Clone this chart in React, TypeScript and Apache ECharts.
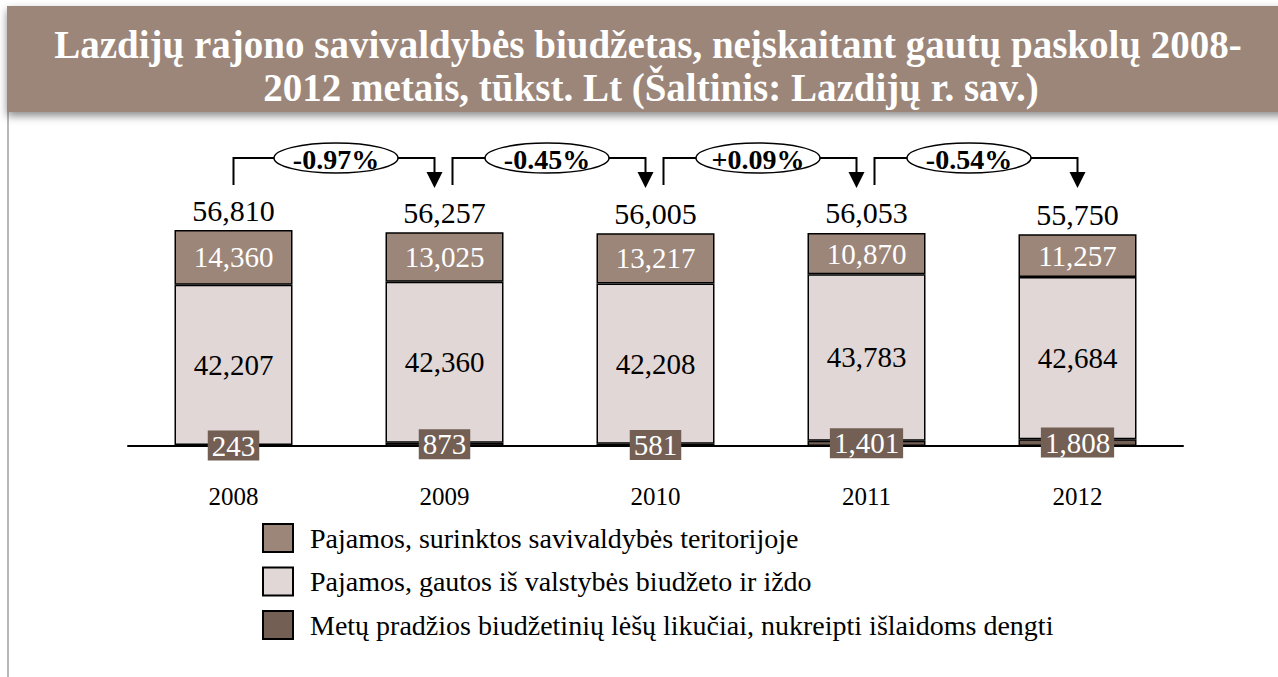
import React, { useEffect, useRef } from "react";
import * as echarts from "echarts";

const years = ["2008", "2009", "2010", "2011", "2012"];
const ownRevenue = [14360, 13025, 13217, 10870, 11257];
const stateRevenue = [42207, 42360, 42208, 43783, 42684];
const balances = [243, 873, 581, 1401, 1808];
const totals = [56810, 56257, 56005, 56053, 55750];
const changes = ["-0.97%", "-0.45%", "+0.09%", "-0.54%"];
const seriesNames = [
  "Pajamos, surinktos savivaldybės teritorijoje",
  "Pajamos, gautos iš valstybės biudžeto ir iždo",
  "Metų pradžios biudžetinių lėšų likučiai, nukreipti išlaidoms dengti",
];
const titleLines = [
  "Lazdijų rajono savivaldybės biudžetas, neįskaitant gautų paskolų 2008-",
  "2012 metais, tūkst. Lt (Šaltinis: Lazdijų r. sav.)",
];

const FONT = '"Liberation Serif", "DejaVu Serif", serif';
const Y_MAX = 60000;
const fmt = (v: number) => v.toLocaleString("en-US");

export default function App() {
  const ref = useRef<HTMLDivElement>(null);
  useEffect(() => {
    document.body.style.margin = "0";
    const chart = echarts.init(ref.current!, null, { renderer: "svg" });
    const C_OWN = "#9C8679";
    const C_STATE = "#E0D7D6";
    const C_BAL = "#735F54";
    const border = { borderColor: "#000", borderWidth: 1.5 };
    const n = years.length;

    chart.setOption({
      animation: false,
      textStyle: { fontFamily: FONT },
      graphic: [
        {
          type: "rect",
          shape: { x: 7, y: 6, width: 1290, height: 106 },
          style: {
            fill: "#9C8679",
            shadowBlur: 8,
            shadowOffsetY: 4,
            shadowColor: "rgba(0,0,0,0.45)",
          },
          z: 10,
        },
        {
          type: "line",
          shape: { x1: 8, y1: 112, x2: 8, y2: 677 },
          style: { stroke: "#B8B8B8", lineWidth: 2 },
          z: 9,
        },
        {
          type: "text",
          x: 648,
          y: 44,
          style: {
            text: titleLines[0],
            fill: "#fff",
            font: `bold 39px ${FONT}`,
            align: "center",
            verticalAlign: "middle",
          },
          z: 11,
        },
        {
          type: "text",
          x: 651,
          y: 87,
          style: {
            text: titleLines[1],
            fill: "#fff",
            font: `bold 39px ${FONT}`,
            align: "center",
            verticalAlign: "middle",
          },
          z: 11,
        },
      ],
      grid: { left: 128, top: 218, width: 1055, height: 228 },
      legend: {
        data: seriesNames,
        orient: "vertical",
        left: 257,
        top: 518,
        itemWidth: 30,
        itemHeight: 28,
        itemGap: 13.5,
        icon: "rect",
        itemStyle: { borderColor: "#000", borderWidth: 2 },
        textStyle: { fontSize: 28, color: "#000", fontFamily: FONT, padding: [0, 0, 0, 12] },
        selectedMode: false,
      },
      xAxis: {
        type: "category",
        data: years,
        axisTick: { show: false },
        axisLine: { lineStyle: { color: "#000", width: 2 } },
        axisLabel: { fontSize: 25, color: "#000", margin: 38, fontFamily: FONT },
        z: 5,
      },
      yAxis: { type: "value", min: 0, max: Y_MAX, show: false, splitLine: { show: false } },
      series: [
        {
          name: seriesNames[2],
          type: "bar",
          stack: "a",
          barWidth: 118,
          data: balances,
          itemStyle: { color: C_BAL, ...border },
          label: {
            show: true,
            position: "inside",
            formatter: (p: any) => fmt(p.value),
            color: "#fff",
            fontSize: 29,
            fontFamily: FONT,
            backgroundColor: C_BAL,
            padding: [1, 4, 0, 4],
          },
          z: 10,
        },
        {
          name: seriesNames[1],
          type: "bar",
          stack: "a",
          data: stateRevenue,
          itemStyle: { color: C_STATE, ...border },
          label: {
            show: true,
            position: "inside",
            formatter: (p: any) => fmt(p.value),
            color: "#000",
            fontSize: 29,
            fontFamily: FONT,
          },
        },
        {
          name: seriesNames[0],
          type: "bar",
          stack: "a",
          data: ownRevenue,
          itemStyle: { color: C_OWN, ...border },
          label: {
            show: true,
            position: "inside",
            formatter: (p: any) => fmt(p.value),
            color: "#fff",
            fontSize: 29,
            fontFamily: FONT,
          },
        },
        {
          name: "totals",
          type: "custom",
          data: totals.map((t, i) => [i, t]),
          z: 6,
          renderItem: (params: any, api: any) => {
            const i = api.value(0);
            const p = api.coord([i, api.value(1)]);
            const topY = api.coord([i, Y_MAX])[1];
            const children: any[] = [
              {
                type: "text",
                style: {
                  text: fmt(totals[i]),
                  x: p[0],
                  y: p[1] - 5,
                  align: "center",
                  verticalAlign: "bottom",
                  fill: "#000",
                  font: `30px ${FONT}`,
                },
              },
            ];
            if (i < n - 1) {
              const q = api.coord([i + 1, totals[i + 1]]);
              const x1 = p[0] + (i === 0 ? 0 : 8);
              const x2 = q[0] - (i + 1 === n - 1 ? 0 : 10);
              const yH = topY - 60;
              const yB = topY - 33;
              const yTip = topY - 30;
              const cx = (p[0] + q[0]) / 2 - 3;
              children.push({
                type: "polyline",
                shape: { points: [[x1, yB], [x1, yH], [x2, yH], [x2, yTip - 14]] },
                style: { stroke: "#000", lineWidth: 2, fill: null },
              });
              children.push({
                type: "polygon",
                shape: { points: [[x2 - 8, yTip - 16], [x2 + 8, yTip - 16], [x2, yTip]] },
                style: { fill: "#000" },
              });
              children.push({
                type: "ellipse",
                shape: { cx, cy: yH, rx: 62, ry: 15 },
                style: { fill: "#fff", stroke: "#000", lineWidth: 1.5 },
              });
              children.push({
                type: "text",
                style: {
                  text: changes[i],
                  x: cx,
                  y: yH + 1,
                  align: "center",
                  verticalAlign: "middle",
                  fill: "#000",
                  font: `bold 28px ${FONT}`,
                },
              });
            }
            return { type: "group", children };
          },
        },
      ],
    });
    return () => chart.dispose();
  }, []);
  return <div ref={ref} style={{ width: 1278, height: 677 }} />;
}
